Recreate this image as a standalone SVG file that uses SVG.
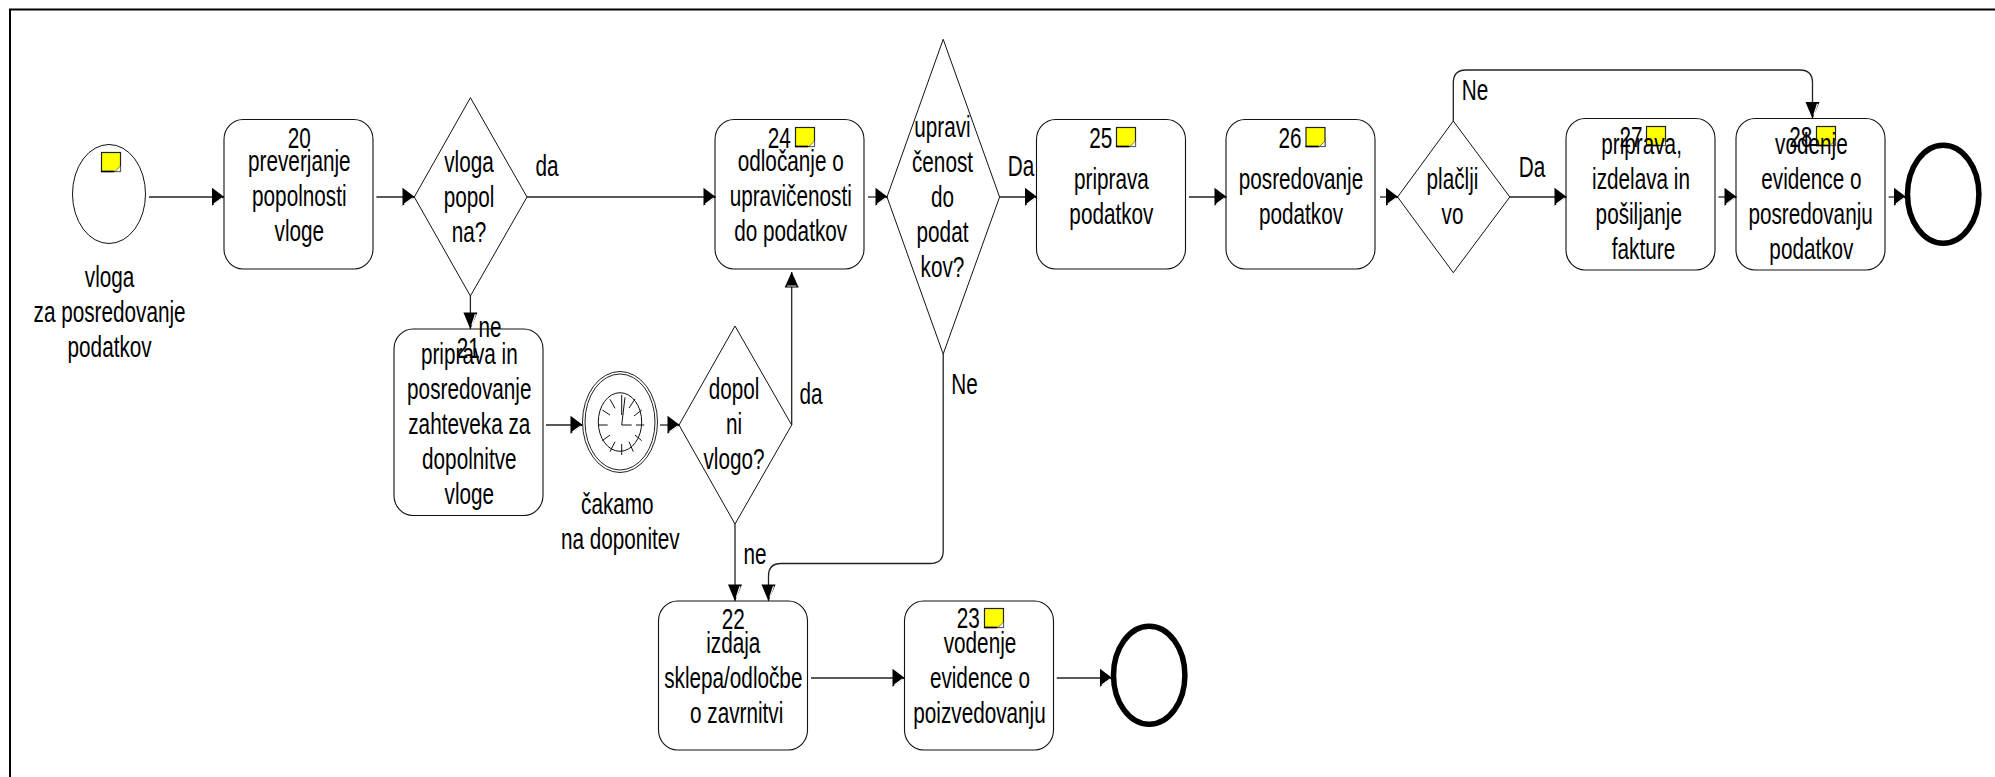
<svg xmlns="http://www.w3.org/2000/svg" xmlns:xlink="http://www.w3.org/1999/xlink" width="1995" height="777" viewBox="0 0 1995 777">
<style>
text{font-family:"Liberation Sans",Arial,sans-serif;font-size:29px;text-anchor:middle;fill:#000}
.box{fill:#fff;stroke:#111;stroke-width:1.1}
.dia{fill:#fff;stroke:#111;stroke-width:1}
.end{fill:#fff;stroke:#000;stroke-width:5.5}
.c{fill:none;stroke:#222;stroke-width:1.3}
.cr{marker-end:url(#ar)}.cd{marker-end:url(#ad)}.cu{marker-end:url(#au)}
.tick{stroke:#111;stroke-width:1;fill:none}
</style>
<defs>
<marker id="ar" markerUnits="userSpaceOnUse" markerWidth="14" markerHeight="20" refX="12.5" refY="10" orient="0" overflow="visible"><path d="M.5 .8L12.8 10L.5 18.8Z" fill="#000"/><path d="M2.4 17L10.6 11" stroke="#fff" stroke-width="1.2" fill="none"/></marker>
<marker id="ad" markerUnits="userSpaceOnUse" markerWidth="16" markerHeight="18" refX="7" refY="17" orient="0" overflow="visible"><path d="M0 .5L14 .5L7 17.3Z" fill="#000"/><path d="M12 2.2L8.4 13.4" stroke="#fff" stroke-width="1.2" fill="none"/></marker>
<marker id="au" markerUnits="userSpaceOnUse" markerWidth="16" markerHeight="18" refX="7" refY="1" orient="0" overflow="visible"><path d="M0 16.5L14 16.5L7 .7Z" fill="#000"/><path d="M2.4 15L11.6 15" stroke="#fff" stroke-width=".9" fill="none"/></marker>
<g id="note"><rect x=".5" y=".5" width="19" height="19" fill="#ff0" stroke="#222" stroke-width="1.2"/><path d="M0 19.5H13" stroke="#000" stroke-width="1.6"/><path d="M14 19.5L19.5 14V19.5Z" fill="#fff" stroke="#555" stroke-width=".8"/></g>
</defs>
<rect id="frame" x="10" y="9.5" width="2400" height="1200" fill="#fff" stroke="#000" stroke-width="2"/>

<g id="start"><ellipse cx="109" cy="194" rx="36.5" ry="49.5" fill="#fff" stroke="#111"/><use xlink:href="#note" href="#note" x="101" y="152"/>
<text transform="translate(109.6 286.7) scale(.715 1)">vloga</text><text transform="translate(109.6 321.7) scale(.715 1)">za posredovanje</text><text transform="translate(109.6 356.7) scale(.715 1)">podatkov</text></g>

<g id="n20"><rect class="box" x="224" y="119.5" width="149" height="149.5" rx="19" ry="20"/>
<text transform="translate(299.3 148.3) scale(.715 1)">20</text><text transform="translate(299.3 170.7) scale(.715 1)">preverjanje</text><text transform="translate(299.3 205.7) scale(.715 1)">popolnosti</text><text transform="translate(299.3 240.7) scale(.715 1)">vloge</text></g>

<g id="d1"><path class="dia" d="M470.4 97.7L527 197L470.4 296L414.3 197Z"/>
<text transform="translate(469 171.7) scale(.715 1)">vloga</text><text transform="translate(469 206.7) scale(.715 1)">popol</text><text transform="translate(469 241.7) scale(.715 1)">na?</text></g>

<g id="n21"><rect class="box" x="394" y="329" width="149" height="186.5" rx="19" ry="20"/>
<text transform="translate(468.3 358) scale(.715 1)">21</text><text transform="translate(469.3 364) scale(.715 1)">priprava in</text><text transform="translate(469.3 399) scale(.715 1)">posredovanje</text><text transform="translate(469.3 434) scale(.715 1)">zahteveka za</text><text transform="translate(469.3 469) scale(.715 1)">dopolnitve</text><text transform="translate(469.3 504) scale(.715 1)">vloge</text></g>

<g id="timer"><ellipse cx="620" cy="422" rx="37.5" ry="50.5" fill="#fff" stroke="#222"/><ellipse cx="620" cy="422" rx="35" ry="48" fill="#fff" stroke="#222"/><ellipse cx="620" cy="422" rx="21.7" ry="29.3" fill="#fff" stroke="#111"/>
<path class="tick" d="M621.7 425L625 397.3M621.7 425H631.7M598 425H607.7M636 425H644.3M621.7 395V415M610 399.3L615 408.3M602.3 410L610 415M641.7 410L634 416M635 399L629 408M602.3 440.7L610 435M610 451.7L615 441.7M621.7 455V444M633.3 451.7L629 441.7M641.7 440.7L635 435"/>
<text transform="translate(617.3 514) scale(.715 1)">čakamo</text><text transform="translate(620.3 549.3) scale(.715 1)">na doponitev</text></g>

<g id="d2"><path class="dia" d="M735 326L791.7 425L735 524L679 425Z"/>
<text transform="translate(734 399.3) scale(.715 1)">dopol</text><text transform="translate(734 434.3) scale(.715 1)">ni</text><text transform="translate(734 469.3) scale(.715 1)">vlogo?</text></g>

<g id="n22"><rect class="box" x="658.5" y="601" width="149" height="149" rx="19" ry="20"/>
<text transform="translate(733.3 629) scale(.715 1)">22</text><text transform="translate(733.3 652.7) scale(.715 1)">izdaja</text><text transform="translate(733.3 687.7) scale(.715 1)">sklepa/odločbe</text><text transform="translate(736.7 722.7) scale(.715 1)">o zavrnitvi</text></g>

<g id="n23"><rect class="box" x="904.5" y="601" width="149" height="149" rx="19" ry="20"/>
<text transform="translate(968.3 628.3) scale(.715 1)">23</text><use xlink:href="#note" href="#note" x="984" y="608"/><text transform="translate(980 652.7) scale(.715 1)">vodenje</text><text transform="translate(980 687.7) scale(.715 1)">evidence o</text><text transform="translate(979.5 722.7) scale(.715 1)">poizvedovanju</text></g>

<ellipse id="end1" class="end" cx="1149.2" cy="675.3" rx="35.7" ry="49"/>

<g id="n24"><rect class="box" x="715" y="119.5" width="149" height="149.5" rx="19" ry="20"/>
<text transform="translate(779.3 148.3) scale(.715 1)">24</text><use xlink:href="#note" href="#note" x="795" y="127"/><text transform="translate(790.7 170.7) scale(.715 1)">odločanje o</text><text transform="translate(790.7 205.7) scale(.715 1)">upravičenosti</text><text transform="translate(790.7 240.7) scale(.715 1)">do podatkov</text></g>

<g id="d3"><path class="dia" d="M943.2 39.3L999.6 197L943.2 354L887 197Z"/>
<text transform="translate(942.5 136.7) scale(.715 1)">upravi</text><text transform="translate(942.5 171.7) scale(.715 1)">čenost</text><text transform="translate(942.5 206.7) scale(.715 1)">do</text><text transform="translate(942.5 241.7) scale(.715 1)">podat</text><text transform="translate(942.5 276.7) scale(.715 1)">kov?</text></g>

<g id="n25"><rect class="box" x="1036.5" y="119.5" width="149" height="149.5" rx="19" ry="20"/>
<text transform="translate(1100.7 148.3) scale(.715 1)">25</text><use xlink:href="#note" href="#note" x="1116" y="127"/><text transform="translate(1111.4 189) scale(.715 1)">priprava</text><text transform="translate(1111.4 224) scale(.715 1)">podatkov</text></g>

<g id="n26"><rect class="box" x="1226" y="119.5" width="149" height="149.5" rx="19" ry="20"/>
<text transform="translate(1290 148.3) scale(.715 1)">26</text><use xlink:href="#note" href="#note" x="1305.5" y="127"/><text transform="translate(1301 189) scale(.715 1)">posredovanje</text><text transform="translate(1301 224) scale(.715 1)">podatkov</text></g>

<g id="d4"><path class="dia" d="M1453.3 121L1509.8 197L1453.3 272.7L1397.6 197Z"/>
<text transform="translate(1452.5 189.3) scale(.715 1)">plačlji</text><text transform="translate(1452.5 224.3) scale(.715 1)">vo</text></g>

<g id="n27"><rect class="box" x="1566" y="118.5" width="149" height="151.5" rx="19" ry="20"/>
<text transform="translate(1631 147) scale(.715 1)">27</text><use xlink:href="#note" href="#note" x="1646" y="126"/><text transform="translate(1641.6 154) scale(.715 1)">priprava,</text><text transform="translate(1641 189) scale(.715 1)">izdelava in</text><text transform="translate(1638.8 224) scale(.715 1)">pošiljanje</text><text transform="translate(1643.5 259) scale(.715 1)">fakture</text></g>

<g id="n28"><rect class="box" x="1736" y="118.5" width="149" height="151.5" rx="19" ry="20"/>
<text transform="translate(1800.8 147) scale(.715 1)">28</text><use xlink:href="#note" href="#note" x="1816" y="126"/><text transform="translate(1811.4 154) scale(.715 1)">vodenje</text><text transform="translate(1811.4 189) scale(.715 1)">evidence o</text><text transform="translate(1810.6 224) scale(.715 1)">posredovanju</text><text transform="translate(1811.4 259) scale(.715 1)">podatkov</text></g>

<ellipse id="end2" class="end" cx="1943.2" cy="194.2" rx="35.7" ry="49"/>

<g id="connectors">
<path class="c cr" d="M149 197H224"/>
<path class="c cr" d="M376.4 197H414.5"/>
<path class="c cr" d="M527 197H715.5"/>
<path class="c cd" d="M470.4 296V329"/>
<path class="c cr" d="M546 425H582.5"/>
<path class="c cr" d="M660 425H679.5"/>
<path class="c cu" d="M791.7 425V272"/>
<path class="c cd" d="M735 524V601"/>
<path class="c cd" d="M943.2 354V551Q943.2 563.5 930 563.5H781Q768.5 563.5 768.5 576V601"/>
<path class="c cr" d="M811 678H904.5"/>
<path class="c cr" d="M1056.7 678H1112"/>
<path class="c cr" d="M868 197H887.5"/>
<path class="c cr" d="M999.6 197H1037"/>
<path class="c cr" d="M1189 197H1226.5"/>
<path class="c cr" d="M1380 197H1398"/>
<path class="c cr" d="M1509.8 197H1566.5"/>
<path class="c cr" d="M1718.4 197H1736.5"/>
<path class="c cr" d="M1888.6 197H1906"/>
<path class="c cd" d="M1453.3 121V83Q1453.3 70 1466 70H1800Q1812.5 70 1812.5 83V118.5"/>
</g>

<g id="edge-labels">
<text transform="translate(547 175.5) scale(.715 1)">da</text>
<text transform="translate(490 336.5) scale(.715 1)">ne</text>
<text transform="translate(811 403.8) scale(.715 1)">da</text>
<text transform="translate(755 564) scale(.715 1)">ne</text>
<text transform="translate(964.6 394) scale(.715 1)">Ne</text>
<text transform="translate(1021 176) scale(.715 1)">Da</text>
<text transform="translate(1532 176.5) scale(.715 1)">Da</text>
<text transform="translate(1475 100) scale(.715 1)">Ne</text>
</g>
</svg>
